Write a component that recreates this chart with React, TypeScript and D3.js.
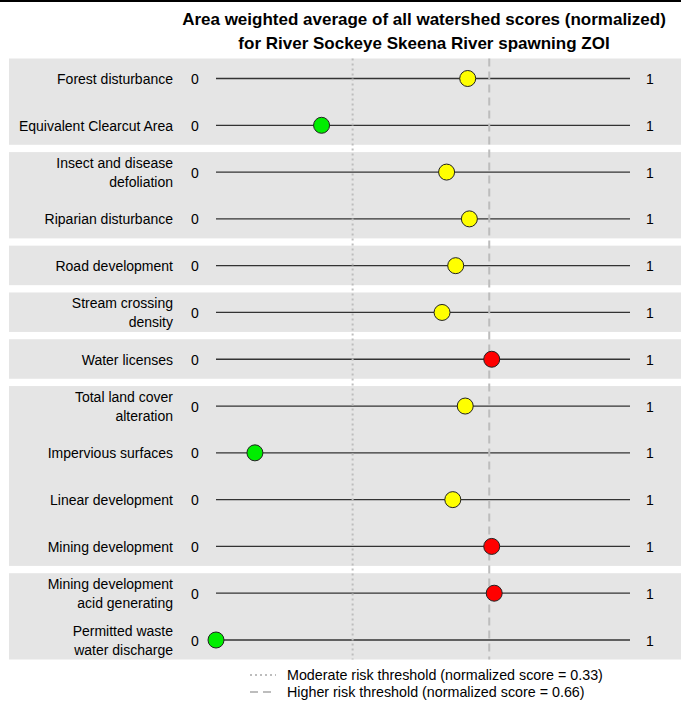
import React, { useEffect, useRef } from "react";
import * as d3 from "d3";

// indicator rows, top to bottom
const indicators = [
  "Forest disturbance",
  "Equivalent Clearcut Area",
  "Insect and disease\ndefoliation",
  "Riparian disturbance",
  "Road development",
  "Stream crossing\ndensity",
  "Water licenses",
  "Total land cover\nalteration",
  "Impervious surfaces",
  "Linear development",
  "Mining development",
  "Mining development\nacid generating",
  "Permitted waste\nwater discharge",
];

// grey panel group of each row
const groups = [0, 0, 1, 1, 2, 3, 4, 5, 5, 5, 5, 6, 6];

// normalized scores
const scores = [0.608, 0.255, 0.557, 0.612, 0.579, 0.546, 0.666, 0.602, 0.094, 0.572, 0.666, 0.672, 0.0];

const thresholds = [0.33, 0.66];
const legendLabels = [
  "Moderate risk threshold (normalized score = 0.33)",
  "Higher risk threshold (normalized score = 0.66)",
];
const titleLines = [
  "Area weighted average of all watershed scores (normalized)",
  "for River Sockeye Skeena River spawning ZOI",
];

const W = 681;
const H = 702;
const FONT = "'Liberation Sans', Arial, sans-serif";

const App: React.FC = () => {
  const svgRef = useRef<SVGSVGElement | null>(null);

  useEffect(() => {
    if (!svgRef.current) return;
    const svg = d3.select(svgRef.current);
    svg.selectAll("*").remove();

    const x = d3.scaleLinear().domain([0, 1]).range([216, 630]);
    const y = d3.scalePoint<number>().domain(d3.range(indicators.length)).range([78.5, 640]);

    const color = (v: number) => (v < thresholds[0] ? "#00ee00" : v < thresholds[1] ? "#ffff00" : "#ff0000");

    // top rule
    svg.append("rect").attr("x", 0).attr("y", 0).attr("width", W).attr("height", 2).attr("fill", "#000");

    // title
    const title = svg.append("text")
      .attr("x", 424)
      .attr("text-anchor", "middle")
      .style("font-family", FONT)
      .style("font-size", "17px")
      .style("font-weight", "bold");
    titleLines.forEach((t, i) => {
      title.append("tspan").attr("x", 424).attr("y", 25 + i * 24).text(t);
    });

    // grey panels per group
    const groupIds = Array.from(new Set(groups));
    groupIds.forEach((g) => {
      const rows = d3.range(indicators.length).filter((i) => groups[i] === g);
      const top = (y(rows[0]) as number) - 20;
      const bottom = (y(rows[rows.length - 1]) as number) + 19.5;
      svg.append("rect")
        .attr("x", 9)
        .attr("y", top)
        .attr("width", W - 9)
        .attr("height", bottom - top)
        .attr("fill", "#e5e5e5");
    });

    // rows
    const row = svg.selectAll(".row")
      .data(indicators)
      .enter()
      .append("g")
      .attr("class", "row")
      .attr("transform", (_, i) => `translate(0, ${y(i)})`);

    row.append("line")
      .attr("x1", x(0))
      .attr("x2", x(1))
      .attr("stroke", "#333")
      .attr("stroke-width", 1.3);

    row.append("text")
      .attr("text-anchor", "end")
      .style("font-family", FONT)
      .style("font-size", "14px")
      .each(function (d) {
        const lines = d.split("\n");
        const t = d3.select(this);
        lines.forEach((l, k) => {
          t.append("tspan")
            .attr("x", 173)
            .attr("y", (k - (lines.length - 1) / 2) * 19 + 5.5)
            .text(l);
        });
      });

    row.append("text")
      .attr("x", 195)
      .attr("y", 5.5)
      .attr("text-anchor", "middle")
      .style("font-family", FONT)
      .style("font-size", "14px")
      .text("0");

    row.append("text")
      .attr("x", 650)
      .attr("y", 5.5)
      .attr("text-anchor", "middle")
      .style("font-family", FONT)
      .style("font-size", "14px")
      .text("1");

    // threshold lines
    const yTop = (y(0) as number) - 20;
    const yBot = (y(indicators.length - 1) as number) + 19.5;
    const dashes = ["2,3", "8,5"];
    thresholds.forEach((t, i) => {
      svg.append("line")
        .attr("x1", x(t))
        .attr("x2", x(t))
        .attr("y1", yTop)
        .attr("y2", yBot)
        .attr("stroke", "#bdbdbd")
        .attr("stroke-width", 2)
        .attr("stroke-dasharray", dashes[i]);
    });

    // points
    svg.selectAll(".pt")
      .data(scores)
      .enter()
      .append("circle")
      .attr("class", "pt")
      .attr("cx", (d) => x(d))
      .attr("cy", (_, i) => y(i) as number)
      .attr("r", 8)
      .attr("fill", (d) => color(d))
      .attr("stroke", "#222")
      .attr("stroke-width", 1);

    // legend
    const legend = svg.append("g").attr("transform", "translate(250, 675)");
    legendLabels.forEach((l, i) => {
      legend.append("line")
        .attr("x1", 0)
        .attr("x2", 26)
        .attr("y1", i * 17)
        .attr("y2", i * 17)
        .attr("stroke", "#bdbdbd")
        .attr("stroke-width", 2)
        .attr("stroke-dasharray", dashes[i]);
      legend.append("text")
        .attr("x", 37)
        .attr("y", i * 17 + 5)
        .style("font-family", FONT)
        .style("font-size", "14.3px")
        .text(l);
    });
  }, []);

  return (
    <svg
      ref={svgRef}
      width={W}
      height={H}
      style={{ position: "absolute", left: 0, top: 0, background: "#fff" }}
    />
  );
};

export default App;
